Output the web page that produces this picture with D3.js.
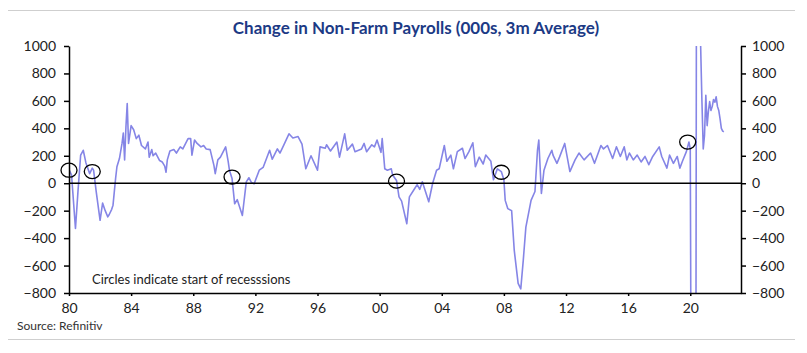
<!DOCTYPE html>
<html>
<head>
<meta charset="utf-8">
<script src="https://cdn.jsdelivr.net/npm/d3@7"></script>
<style>
  body { margin: 0; background: #fff; }
  #chart { width: 807px; height: 353px; }
  .axis text { font-family: Lato, "Open Sans", sans-serif; font-size: 14px; fill: #222; }
  .axis path, .axis line { stroke: #000; stroke-width: 1.5; }
</style>
</head>
<body>
<div id="chart"></div>
<script>
// monthly dates (3m average change in NFP, 000s)
const dates = [
  "1980-01","1980-03","1980-06","1980-08","1980-10","1980-12","1981-02","1981-05","1981-07","1981-08",
  "1981-10","1981-12","1982-01","1982-03","1982-05","1982-07","1982-08","1982-10","1982-11","1983-01",
  "1983-02","1983-04","1983-06","1983-07","1983-08","1983-09","1983-10","1983-11","1984-01","1984-03",
  "1984-05","1984-07","1984-09","1984-12","1985-02","1985-03","1985-05","1985-06","1985-08","1985-11",
  "1986-01","1986-03","1986-04","1986-05","1986-07","1986-10","1986-12","1987-03","1987-05","1987-09",
  "1987-11","1987-12","1988-02","1988-04","1988-07","1988-09","1988-11","1989-02","1989-05","1989-06",
  "1989-08","1989-10","1990-02","1990-04","1990-05","1990-07","1990-09","1990-11","1991-03","1991-06",
  "1991-08","1991-10","1991-12","1992-04","1992-07","1992-12","1993-02","1993-06","1993-08","1993-11",
  "1994-03","1994-06","1994-10","1995-01","1995-04","1995-08","1996-01","1996-03","1996-07","1996-08",
  "1996-11","1997-04","1997-06","1997-10","1997-12","1998-04","1998-06","1998-11","1999-01","1999-03",
  "1999-07","1999-09","1999-11","2000-02","2000-03","2000-05","2000-07","2000-10","2000-11","2001-02",
  "2001-04","2001-06","2001-10","2001-12","2002-04","2002-06","2002-08","2002-10","2003-03","2003-06",
  "2003-09","2003-11","2004-03","2004-05","2004-08","2004-10","2005-01","2005-05","2005-07","2005-10",
  "2006-01","2006-03","2006-06","2006-09","2006-11","2007-03","2007-05","2007-08","2007-11","2008-01",
  "2008-02","2008-04","2008-07","2008-09","2008-12","2009-02","2009-04","2009-06","2009-10","2010-01",
  "2010-03","2010-04","2010-06","2010-08","2010-11","2011-02","2011-03","2011-06","2011-08","2011-12",
  "2012-04","2012-08","2012-11","2013-03","2013-08","2013-11","2014-04","2014-06","2014-09","2015-01",
  "2015-04","2015-07","2015-10","2015-12","2016-02","2016-05","2016-08","2016-11","2017-02","2017-05",
  "2017-08","2018-01","2018-03","2018-07","2018-09","2018-12","2019-03","2019-05","2019-07","2019-10",
  "2019-12","2020-01","2020-02","2020-03","2020-04","2020-05","2020-06","2020-07","2020-08","2020-09",
  "2020-10","2020-11","2020-12","2021-01","2021-02","2021-03","2021-04","2021-05","2021-06","2021-07",
  "2021-08","2021-09","2021-10","2021-11","2021-12","2022-01","2022-02","2022-03","2022-04"
];
const payrolls = [
  100, 60, -330, -50, 205, 240, 150, 70, 110, 95,
  -60, -200, -270, -145, -200, -245, -230, -190, -160, 35,
  120, 180, 290, 365, 170, 410, 580, 290, 420, 390,
  325, 350, 275, 250, 300, 190, 245, 200, 220, 165,
  155, 125, 80, 170, 235, 245, 220, 265, 250, 325,
  325, 205, 315, 290, 265, 275, 250, 245, 130, 70,
  170, 190, 265, 160, 95, 35, -150, -120, -235, 10,
  40, 5, -5, 95, 115, 240, 175, 250, 220, 280,
  360, 330, 340, 285, 105, 200, 95, 265, 255, 280,
  235, 300, 190, 360, 240, 285, 230, 250, 290, 230,
  280, 265, 315, 225, 325, 105, 95, 105, 60, 20,
  -100, -130, -295, -100, -40, -10, -45, 10, -135, 0,
  95, 105, 275, 160, 205, 105, 230, 255, 180, 230,
  295, 120, 190, 140, 205, 160, 25, 105, 85, 25,
  -125, -185, -200, -490, -730, -770, -560, -320, -125, -60,
  240, 315, -75, 95, 180, 240, 205, 145, 190, 290,
  85, 170, 220, 170, 220, 145, 275, 250, 275, 180,
  265, 195, 265, 170, 220, 170, 205, 155, 195, 135,
  195, 265, 195, 110, 205, 145, 195, 110, 160, 230,
  300, 250, -2500, -7000, -6500, -4000, 3000, 2700, 2000, 1000,
  600, 250, 350, 640, 420, 520, 595, 530, 560, 610,
  590, 630, 560, 530, 470, 400, 380, 375
];

// recession starts (circled)
const recessionDates = ["1980-01", "1981-07", "1990-07", "2001-02", "2007-11", "2019-11"];
const recessionValues = [95, 85, 45, 15, 80, 300];

const yTicks = [-800, -600, -400, -200, 0, 200, 400, 600, 800, 1000];
const xTickYears = [1980, 1984, 1988, 1992, 1996, 2000, 2004, 2008, 2012, 2016, 2020];

const title = "Change in Non-Farm Payrolls (000s, 3m Average)";
const note = "Circles indicate start of recesssions";
const source = "Source: Refinitiv";

const W = 807, H = 353;
const margin = { top: 46, right: 66, bottom: 60, left: 69 };
const parse = d3.timeParse("%Y-%m");

const data = dates.map((d, i) => ({ date: parse(d), value: payrolls[i] }));
const circles = recessionDates.map((d, i) => ({ date: parse(d), value: recessionValues[i] }));

const svg = d3.select("#chart").append("svg")
  .attr("width", W).attr("height", H);

const x = d3.scaleTime()
  .domain([new Date(1980, 0, 1), new Date(2023, 3, 8)])
  .range([margin.left, W - margin.right]);

const y = d3.scaleLinear()
  .domain([-800, 1000])
  .range([H - margin.bottom, margin.top]);

// gray rules
svg.append("line").attr("x1", 8).attr("x2", 795).attr("y1", 10.5).attr("y2", 10.5)
  .attr("stroke", "#cfcfcf").attr("stroke-width", 1);
svg.append("line").attr("x1", 8).attr("x2", 795).attr("y1", 339.5).attr("y2", 339.5)
  .attr("stroke", "#cfcfcf").attr("stroke-width", 1);

svg.append("text")
  .attr("x", 416).attr("y", 34)
  .attr("text-anchor", "middle")
  .style("font-family", "Lato, 'Open Sans', sans-serif")
  .style("font-weight", "bold")
  .style("font-size", "17px")
  .style("fill", "#1c3a85")
  .text(title);

svg.append("defs").append("clipPath").attr("id", "plot-clip")
  .append("rect")
  .attr("x", margin.left).attr("y", margin.top)
  .attr("width", W - margin.right - margin.left)
  .attr("height", H - margin.bottom - margin.top);

// line
const line = d3.line()
  .x(d => x(d.date))
  .y(d => y(d.value));

svg.append("path")
  .datum(data)
  .attr("clip-path", "url(#plot-clip)")
  .attr("fill", "none")
  .attr("stroke", "#8585e6")
  .attr("stroke-width", 1.6)
  .attr("stroke-linejoin", "round")
  .attr("d", line);

// zero line
svg.append("line")
  .attr("x1", x.range()[0]).attr("x2", x.range()[1])
  .attr("y1", y(0)).attr("y2", y(0))
  .attr("stroke", "#000").attr("stroke-width", 1.5);

// axes
svg.append("g")
  .attr("class", "axis")
  .attr("transform", `translate(${margin.left},0)`)
  .call(d3.axisLeft(y).tickValues(yTicks).tickFormat(d3.format("d"))
    .tickSize(5).tickPadding(8).tickSizeOuter(0));

svg.append("g")
  .attr("class", "axis")
  .attr("transform", `translate(${W - margin.right},0)`)
  .call(d3.axisRight(y).tickValues(yTicks).tickFormat(d3.format("d"))
    .tickSize(5).tickPadding(6).tickSizeOuter(0));

svg.append("g")
  .attr("class", "axis")
  .attr("transform", `translate(0,${H - margin.bottom})`)
  .call(d3.axisBottom(x)
    .tickValues(xTickYears.map(yr => new Date(yr, 0, 1)))
    .tickFormat(d3.timeFormat("%y"))
    .tickSize(3).tickPadding(7).tickSizeOuter(0));

// recession circles
svg.selectAll(".rec")
  .data(circles)
  .enter()
  .append("ellipse")
  .attr("class", "rec")
  .attr("cx", d => x(d.date))
  .attr("cy", d => y(d.value))
  .attr("rx", 8).attr("ry", 7)
  .attr("fill", "none")
  .attr("stroke", "#000")
  .attr("stroke-width", 1.3);

svg.append("text")
  .attr("x", 92).attr("y", 284)
  .style("font-family", "Lato, 'Open Sans', sans-serif")
  .style("font-size", "13px")
  .style("fill", "#222")
  .text(note);

svg.append("text")
  .attr("x", 17).attr("y", 330)
  .style("font-family", "Lato, 'Open Sans', sans-serif")
  .style("font-size", "12px")
  .style("fill", "#333")
  .text(source);
</script>
</body>
</html>
